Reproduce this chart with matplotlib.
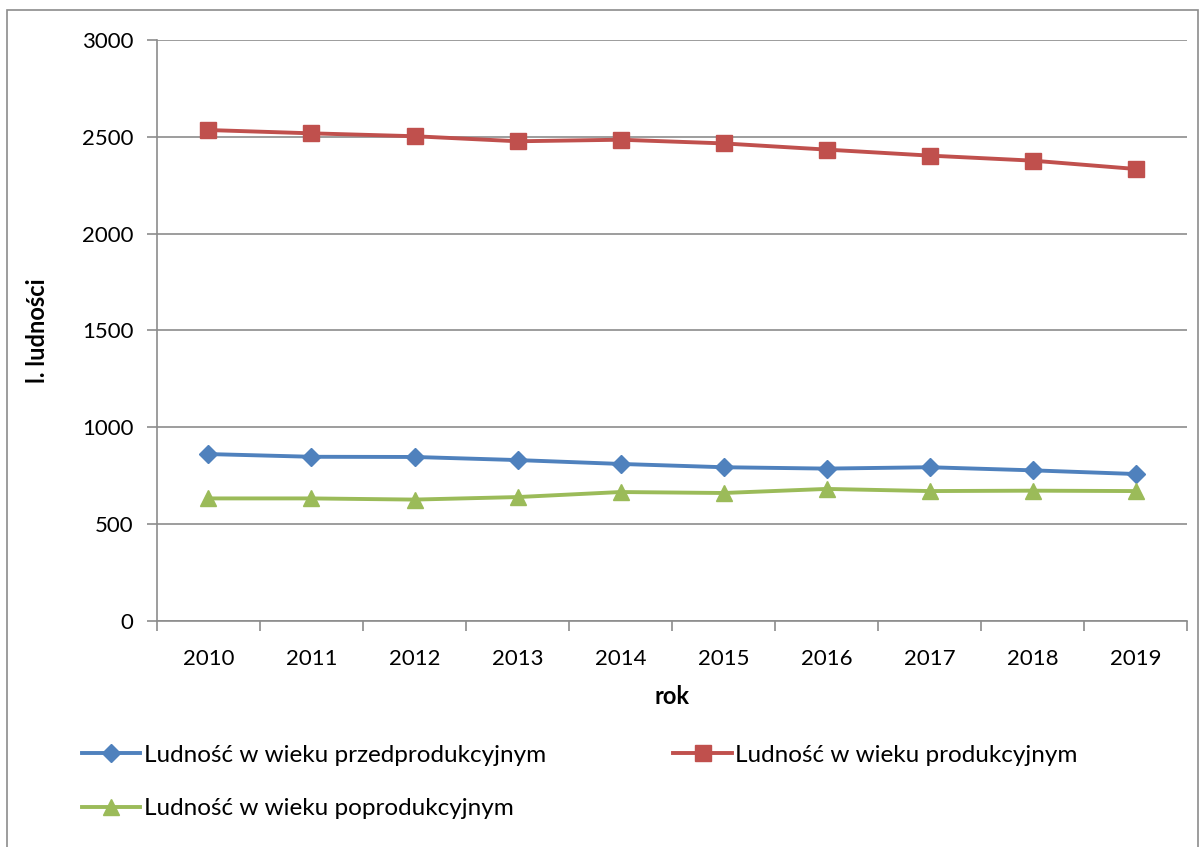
import matplotlib.pyplot as plt
from matplotlib.patches import Rectangle

# data
years = ['2010', '2011', '2012', '2013', '2014', '2015', '2016', '2017', '2018', '2019']
przedprodukcyjny = [862, 848, 847, 831, 811, 794, 787, 794, 778, 759]
produkcyjny = [2535, 2518, 2503, 2477, 2485, 2466, 2434, 2403, 2377, 2334]
poprodukcyjny = [633, 633, 627, 640, 666, 661, 682, 671, 673, 671]

labels = ['Ludność w wieku przedprodukcyjnym',
          'Ludność w wieku produkcyjnym',
          'Ludność w wieku poprodukcyjnym']

plt.rcParams['font.family'] = ['Lato', 'DejaVu Sans']

fig = plt.figure(figsize=(12.02, 8.47), dpi=100)
ax = fig.add_axes([0.1306, 0.2668, 0.857, 0.686])

# chart border
fig.patches.append(Rectangle((7 / 1202, -0.01), 1191 / 1202, 1 - 10 / 847 + 0.01,
                             transform=fig.transFigure, fill=False,
                             edgecolor='#8c8c8c', linewidth=1.2))

x = range(len(years))
l1, = ax.plot(x, przedprodukcyjny, color='#4F81BD', lw=2.8, marker='D',
              markersize=9, label=labels[0])
l2, = ax.plot(x, produkcyjny, color='#C0504D', lw=2.8, marker='s',
              markersize=11, label=labels[1])
l3, = ax.plot(x, poprodukcyjny, color='#9BBB59', lw=2.8, marker='^',
              markersize=12, label=labels[2])

ax.set_ylim(0, 3000)
ax.set_yticks(range(0, 3001, 500))
ax.set_xlim(-0.5, len(years) - 0.5)
ax.set_xticks(list(x))
ax.set_xticklabels(years)
ax.set_xticks([i - 0.5 for i in range(len(years) + 1)], minor=True)
ax.tick_params(axis='x', which='major', length=0, pad=20, labelsize=16)
ax.tick_params(axis='x', which='minor', length=7, color='#8c8c8c', width=1.2)
ax.tick_params(axis='y', length=7, color='#8c8c8c', width=1.2, pad=10, labelsize=16)

ax.grid(axis='y', color='#8c8c8c', lw=1.2)
ax.set_axisbelow(True)
for side in ['top', 'right']:
    ax.spines[side].set_visible(False)
for side in ['left', 'bottom']:
    ax.spines[side].set_color('#8c8c8c')
    ax.spines[side].set_linewidth(1.2)

ax.set_xlabel('rok', fontsize=17, fontweight='bold', labelpad=12)
ax.set_ylabel('l. ludności', fontsize=17, fontweight='bold', labelpad=24)

# column-major fill: blue, green | red
fig.legend([l1, l3, l2], [labels[0], labels[2], labels[1]],
           loc='upper left', bbox_to_anchor=(0.068, 0.121),
           ncol=2, frameon=False, fontsize=17.5, handlelength=2.4,
           handletextpad=0.15, columnspacing=5.25, labelspacing=1.35,
           borderpad=0, borderaxespad=0)

fig.savefig('out.png', dpi=100)
